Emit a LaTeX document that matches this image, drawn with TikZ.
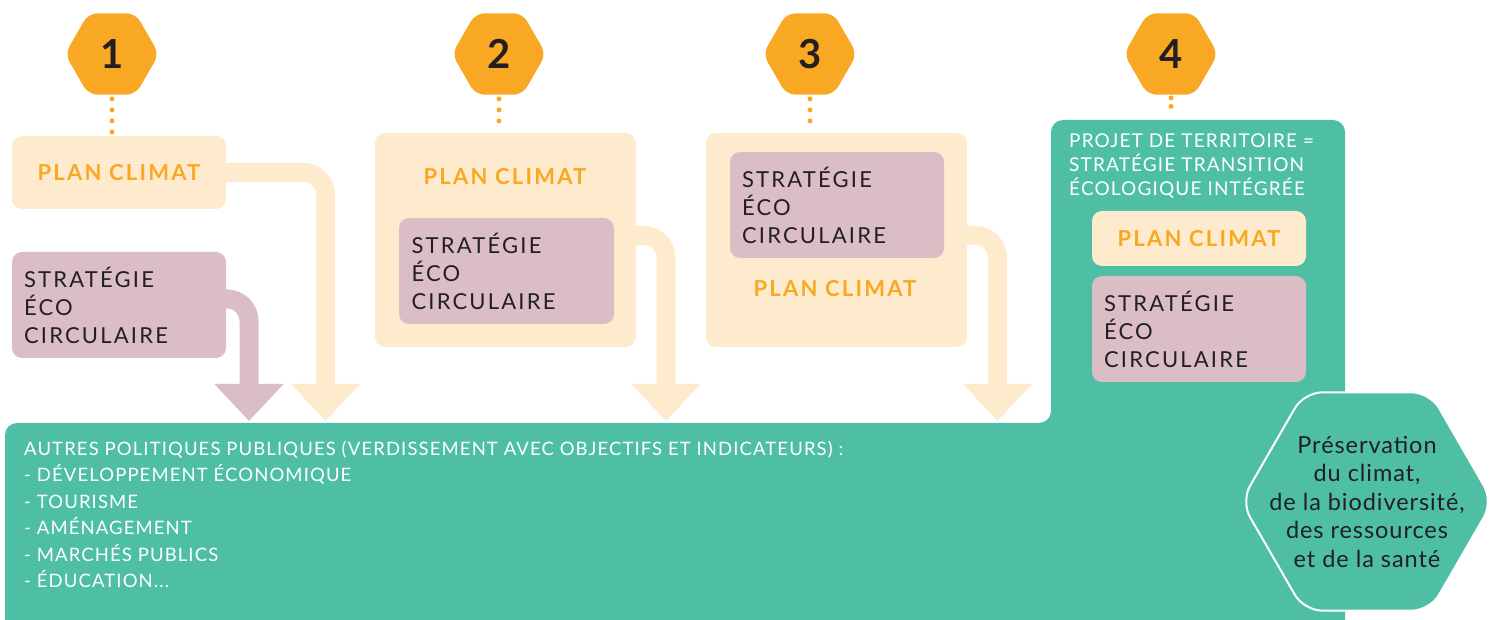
\documentclass[tikz,border=0pt]{standalone}
\usepackage{fontspec}
\setmainfont{Lato}
\newfontfamily\capsfont[LetterSpace=10]{Lato}
\newfontfamily\titlefont[LetterSpace=6]{Lato}
\newfontfamily\widefont[LetterSpace=4]{Lato}
\usepackage{tikz}
\usetikzlibrary{
  arrows.meta,
  positioning,
  shapes.geometric,
  backgrounds
}
\definecolor{hexorange}{HTML}{F8A822}
\definecolor{creamblk}{HTML}{FEEBCD}
\definecolor{mauveblk}{HTML}{DBBEC5}
\definecolor{tealblk}{HTML}{4EBFA5}
\definecolor{inkcolor}{HTML}{231F20}

\begin{document}
\begin{tikzpicture}[x=1pt, y=1pt,
  hexnum/.style={regular polygon, regular polygon sides=6, minimum size=94pt, inner sep=0pt,
    fill=hexorange, rounded corners=9pt, text=inkcolor, font=\fontsize{40}{40}\selectfont\bfseries},
  cbox/.style={fill=creamblk, rounded corners=10pt, text=hexorange,
    font=\capsfont\fontsize{22}{28}\selectfont\bfseries},
  sbox/.style={fill=mauveblk, rounded corners=10pt, minimum width=214pt, minimum height=106pt,
    text width=190pt, inner xsep=12pt, align=left, text=inkcolor,
    font=\capsfont\fontsize{22}{28}\selectfont},
  lbl/.style={inner sep=0pt, anchor=north west, align=left, text=white},
  goal/.style={regular polygon, regular polygon sides=6, minimum size=252pt, inner sep=0pt,
    fill=tealblk, draw=white, line width=2pt, rounded corners=18pt},
  goaltxt/.style={align=center, text=inkcolor, font=\widefont\fontsize{23.5}{28.5}\selectfont},
  dots/.style={hexorange, line width=5pt, line cap=round, dash pattern=on 0pt off 11pt},
  flow/.style={line width=19pt, rounded corners=22pt, -{Triangle[width=67pt,length=37pt]}},
]
  \useasboundingbox (0,0) rectangle (1492,619);

  % Teal area: other policies and territory project
  \begin{scope}[on background layer]
    \fill[tealblk, rounded corners=12pt] (5,-20) -- (5,196) -- (1051,196) -- (1051,499)
      -- (1345,499) -- (1345,-20) -- cycle;
  \end{scope}

  % Numbered steps
  \node[hexnum] (h1) at (112,565) {1};
  \node[hexnum] (h2) at (499,565) {2};
  \node[hexnum] (h3) at (810,565) {3};
  \node[hexnum] (h4) at (1171,565) {4};

  % Step 1: separate plans
  \node[cbox, minimum width=214pt, minimum height=73pt] (pc1) at (119,446.5) {PLAN CLIMAT};
  \node[sbox] (se1) at (119,314) {STRATÉGIE\\ÉCO\\CIRCULAIRE};

  % Step 2: strategy inside the plan
  \node[cbox, minimum width=261pt, minimum height=214pt] (pc2) at (505.5,379) {};
  \node[cbox, inner sep=0pt] (pl2) at (505,442) {PLAN CLIMAT};
  \node[sbox, minimum width=215pt] (se2) at (506.5,348) {STRATÉGIE\\ÉCO\\CIRCULAIRE};

  % Step 3: plan inside the strategy
  \node[cbox, minimum width=261pt, minimum height=214pt] (pc3) at (836.5,379) {};
  \node[sbox] (se3) at (837,414) {STRATÉGIE\\ÉCO\\CIRCULAIRE};
  \node[cbox, inner sep=0pt] (pl3) at (835,330) {PLAN CLIMAT};

  % Step 4: integrated territory project
  \coordinate (tab) at (1171,499);
  \node[lbl, font=\titlefont\fontsize{19}{24}\selectfont] (pt) at (1069,485)
    {PROJET DE TERRITOIRE =\\STRATÉGIE TRANSITION\\ÉCOLOGIQUE INTÉGRÉE};
  \node[cbox, minimum width=214pt, minimum height=55pt] (pc4) at (1199,380.5) {PLAN CLIMAT};
  \node[sbox] (se4) at (1199,290) {STRATÉGIE\\ÉCO\\CIRCULAIRE};

  % Other public policies
  \node[lbl, font=\titlefont\fontsize{18.5}{26.4}\selectfont] (ap) at (24,178)
    {AUTRES POLITIQUES PUBLIQUES (VERDISSEMENT AVEC OBJECTIFS ET INDICATEURS) :\\
     - DÉVELOPPEMENT ÉCONOMIQUE\\- TOURISME\\- AMÉNAGEMENT\\- MARCHÉS PUBLICS\\- ÉDUCATION...};

  % Goal
  \node[goal] (pv) at (1367,117.5) {};
  \node[goaltxt] (pvt) at (pv.center)
    {Préservation\\du climat,\\de la biodiversité,\\des ressources\\et de la santé};

  % Dotted links
  \draw[dots, shorten <=4pt, shorten >=3pt] (h1.south) -- (h1.south |- pc1.north);
  \draw[dots, shorten <=4pt, shorten >=3pt] (h2.south) -- (h2.south |- pc2.north);
  \draw[dots, shorten <=4pt, shorten >=3pt] (h3.south) -- (h3.south |- pc3.north);
  \draw[dots, dash pattern=on 0pt off 8.5pt, shorten <=3pt, shorten >=6pt] (h4.south) -- (tab);

  % Flows into other policies
  \coordinate (t1) at (325.5,198);
  \coordinate (t1s) at (249,198);
  \coordinate (t2) at (666,198);
  \coordinate (t3) at (997.5,198);
  \begin{scope}[on background layer]
    \draw[flow, creamblk] (pc1.east) -| (t1);
    \draw[flow, mauveblk] ([yshift=6pt]se1.east) -| (t1s);
    \draw[flow, creamblk] ([yshift=4.5pt]pc2.east) -| (t2);
    \draw[flow, creamblk] ([yshift=4.5pt]pc3.east) -| (t3);
  \end{scope}
\end{tikzpicture}
\end{document}
